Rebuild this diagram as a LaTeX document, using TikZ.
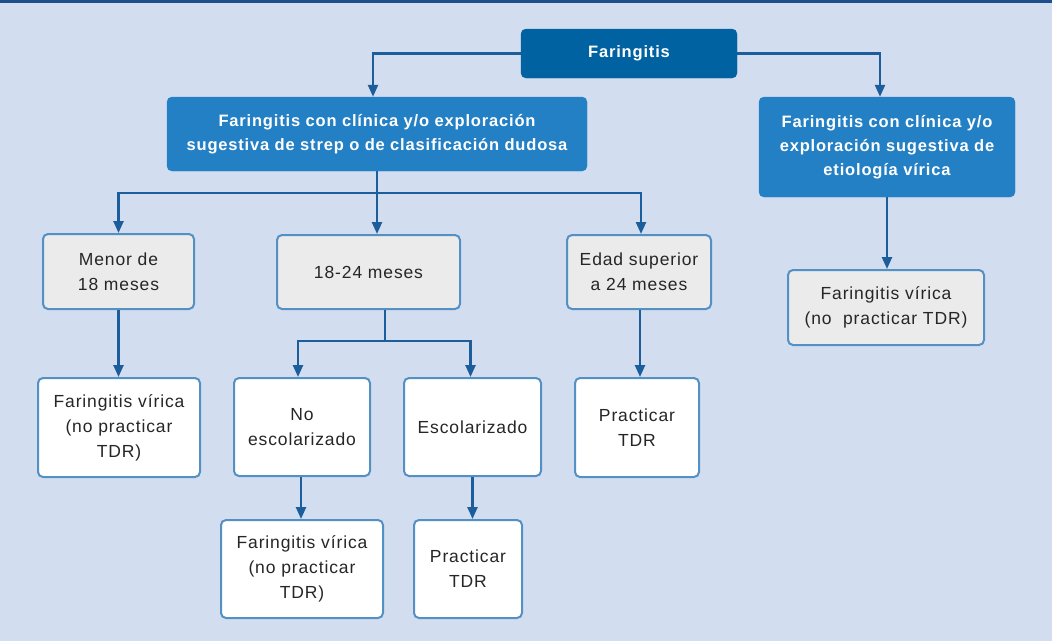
\documentclass[tikz,border=0pt]{standalone}
\usepackage{fontspec}
\setmainfont{Liberation Sans}
\newfontfamily\regfont[LetterSpace=5]{Liberation Sans}
\newfontfamily\boldfont[LetterSpace=5]{Liberation Sans Bold}
\usetikzlibrary{arrows.meta,calc}
\definecolor{bg}{HTML}{D3DDF0}
\definecolor{topline}{HTML}{1F4E8C}
\definecolor{titleblue}{HTML}{0062A0}
\definecolor{midblue}{HTML}{2480C4}
\definecolor{greyfill}{HTML}{EBEBEB}
\definecolor{boxborder}{HTML}{5390C4}
\definecolor{arrowblue}{HTML}{1B5E9B}
\tikzset{
  base/.style={rounded corners=5pt, align=center, inner sep=0pt},
  titlebox/.style={base, fill=titleblue, draw=titleblue, text=white, font=\boldfont\fontsize{16.5}{24}\selectfont},
  bluebox/.style={base, fill=midblue, draw=midblue, text=white, font=\boldfont\fontsize{16.5}{24}\selectfont},
  greybox/.style={base, fill=greyfill, draw=boxborder, line width=2pt, text=black!85, font=\regfont\fontsize{17.5}{25}\selectfont},
  whitebox/.style={base, fill=white, draw=boxborder, line width=2pt, text=black!85, font=\regfont\fontsize{17.5}{25}\selectfont},
  conn/.style={draw=arrowblue, line width=2.4pt},
  arr/.style={conn, -{Triangle[width=10pt,length=12pt]}}
}
\begin{document}
\begin{tikzpicture}[x=1pt,y=-1pt]
\fill[bg] (0,0) rectangle (1052,641);
\useasboundingbox (0,0) rectangle (1052,641);
\fill[topline] (0,0) rectangle (1052,2.5);

\node[titlebox, minimum width=216pt, minimum height=49pt] (top) at (629,53.5) {Faringitis};
\node[bluebox, minimum width=420pt, minimum height=74pt] (lb) at (377,134) {Faringitis con clínica y/o exploración\\sugestiva de strep o de clasificación dudosa};
\node[bluebox, minimum width=256pt, minimum height=100pt] (rb) at (887,147) {Faringitis con clínica y/o\\exploración sugestiva de\\etiología vírica};
\node[greybox, minimum width=151pt, minimum height=75pt] (m18) at (118.5,271.5) {Menor de\\18 meses};
\node[greybox, minimum width=183pt, minimum height=74pt] (m1824) at (368.5,272) {18-24 meses};
\node[greybox, minimum width=144pt, minimum height=74pt] (m24) at (639,272) {Edad superior\\a 24 meses};
\node[greybox, minimum width=196pt, minimum height=75pt] (rv) at (886,307.5) {Faringitis vírica\\(no\ \ practicar TDR)};
\node[whitebox, minimum width=162pt, minimum height=99pt] (lv) at (119,427.5) {Faringitis vírica\\(no practicar\\TDR)};
\node[whitebox, minimum width=136pt, minimum height=98pt] (noesc) at (302,427) {No\\escolarizado};
\node[whitebox, minimum width=137pt, minimum height=98pt] (esc) at (472.5,427) {Escolarizado};
\node[whitebox, minimum width=124pt, minimum height=99pt] (tdr1) at (637,427.5) {Practicar\\TDR};
\node[whitebox, minimum width=162pt, minimum height=98pt] (bv) at (302,569) {Faringitis vírica\\(no practicar\\TDR)};
\node[whitebox, minimum width=108pt, minimum height=98pt] (tdr2) at (468,569) {Practicar\\TDR};

\coordinate (b1) at (377,193);
\coordinate (b2) at (385,341);

\draw[arr] (top.west) -| ([xshift=-4pt]lb.north);
\draw[arr] (top.east) -| ([xshift=-7pt]rb.north);
\draw[conn] (lb.south) -- (b1);
\draw[arr] (b1) -| (m18.north);
\draw[arr] (b1) -- (b1 |- m1824.north);
\draw[arr] (b1) -| ([xshift=2pt]m24.north);
\draw[arr] (rb.south) -- (rb.south |- rv.north);
\draw[arr] (m18.south) -- (m18.south |- lv.north);
\draw[conn] (b2 |- m1824.south) -- (b2);
\draw[arr] (b2) -| ([xshift=-4pt]noesc.north);
\draw[arr] (b2) -| ([xshift=-2pt]esc.north);
\draw[arr] ([xshift=1pt]m24.south) -- ([xshift=1pt]m24.south |- tdr1.north);
\draw[arr] ([xshift=-1pt]noesc.south) -- ([xshift=-1pt]noesc.south |- bv.north);
\draw[arr] (esc.south) -- (esc.south |- tdr2.north);
\end{tikzpicture}
\end{document}
